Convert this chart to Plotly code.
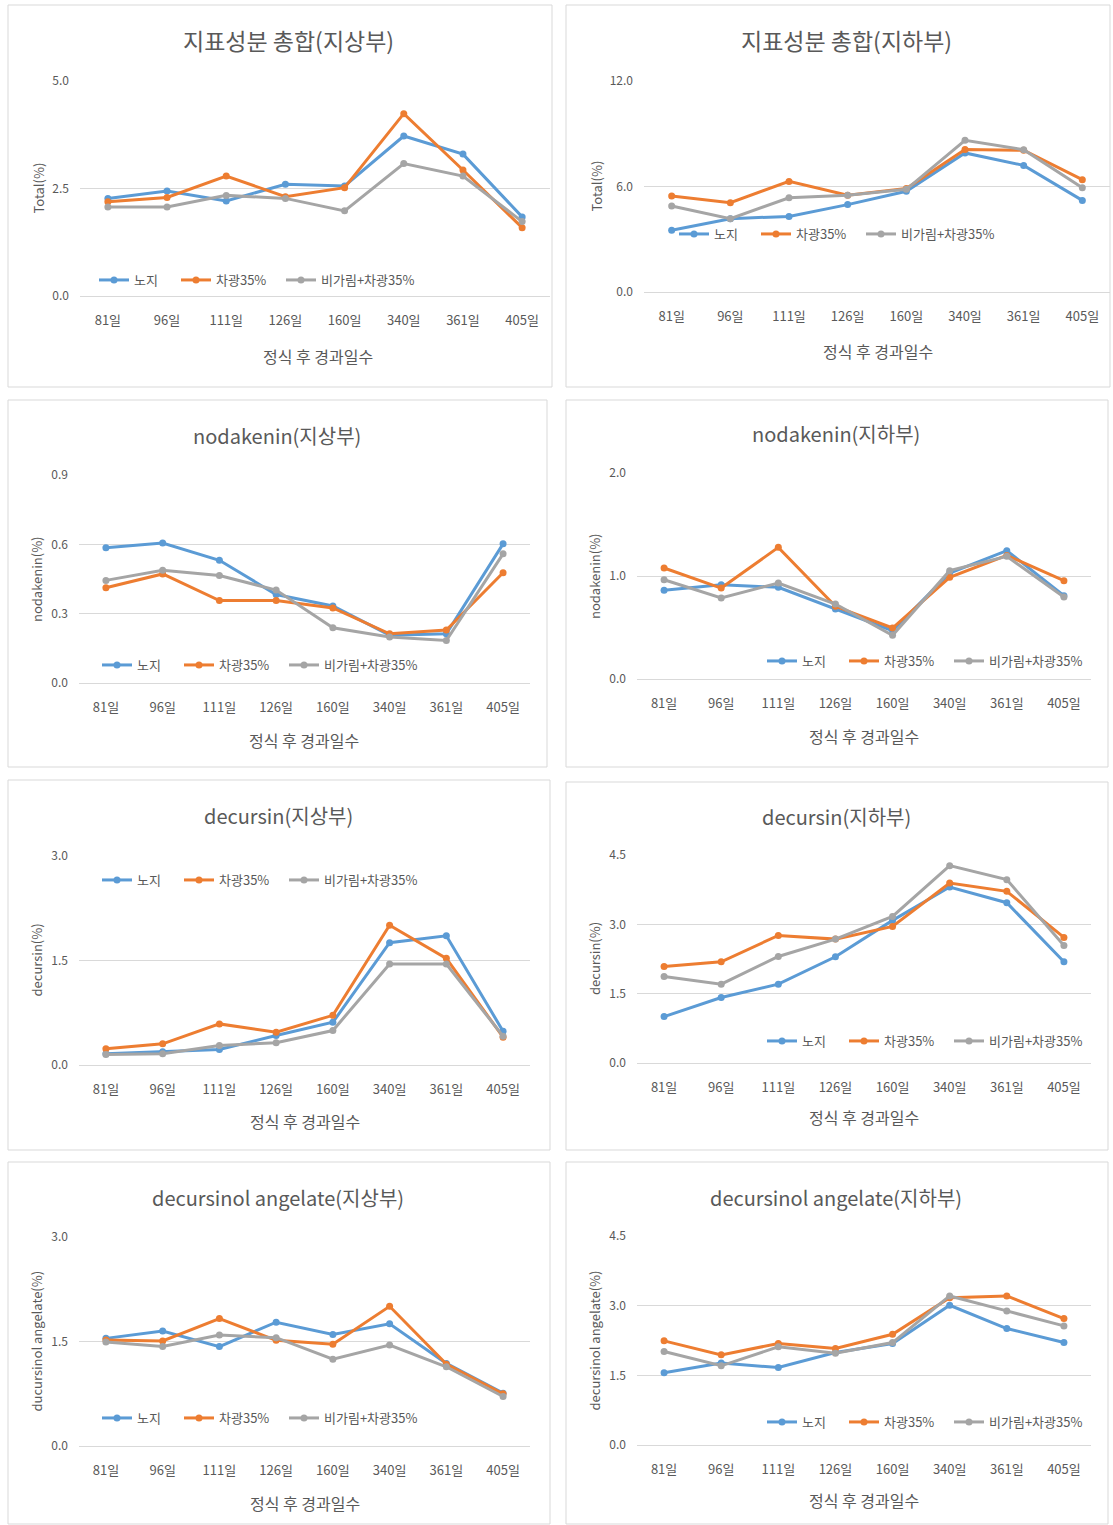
import plotly.graph_objects as go

W, H = 1113, 1525

categories = ["81일", "96일", "111일", "126일", "160일", "340일", "361일", "405일"]
series_names = ["노지", "차광35%", "비가림+차광35%"]
series_colors = ["#5B9BD5", "#ED7D31", "#A5A5A5"]

# 지표성분 총합(지상부)
total_above_noji = [2.27, 2.44, 2.21, 2.60, 2.56, 3.72, 3.30, 1.84]
total_above_shade = [2.19, 2.29, 2.79, 2.31, 2.52, 4.24, 2.93, 1.59]
total_above_rain = [2.07, 2.07, 2.34, 2.27, 1.98, 3.08, 2.79, 1.73]
# 지표성분 총합(지하부)
total_below_noji = [3.51, 4.17, 4.30, 4.97, 5.73, 7.91, 7.20, 5.21]
total_below_shade = [5.46, 5.08, 6.29, 5.50, 5.88, 8.11, 8.06, 6.39]
total_below_rain = [4.89, 4.17, 5.36, 5.50, 5.84, 8.63, 8.09, 5.93]
# nodakenin(지상부)
nodak_above_noji = [0.585, 0.606, 0.531, 0.383, 0.333, 0.207, 0.213, 0.602]
nodak_above_shade = [0.412, 0.472, 0.357, 0.357, 0.325, 0.213, 0.229, 0.477]
nodak_above_rain = [0.444, 0.488, 0.465, 0.402, 0.239, 0.199, 0.184, 0.559]
# nodakenin(지하부)
nodak_below_noji = [0.861, 0.916, 0.890, 0.680, 0.469, 1.029, 1.246, 0.809]
nodak_below_shade = [1.078, 0.883, 1.278, 0.706, 0.495, 0.987, 1.200, 0.955]
nodak_below_rain = [0.964, 0.786, 0.932, 0.728, 0.424, 1.052, 1.191, 0.796]
# decursin(지상부)
decur_above_noji = [0.162, 0.190, 0.223, 0.423, 0.613, 1.755, 1.854, 0.485]
decur_above_shade = [0.233, 0.304, 0.590, 0.471, 0.713, 2.007, 1.531, 0.399]
decur_above_rain = [0.152, 0.162, 0.281, 0.319, 0.495, 1.450, 1.450, 0.414]
# decursin(지하부)
decur_below_noji = [1.004, 1.416, 1.705, 2.298, 3.085, 3.808, 3.468, 2.189]
decur_below_shade = [2.088, 2.189, 2.760, 2.680, 2.955, 3.894, 3.714, 2.717]
decur_below_rain = [1.871, 1.705, 2.305, 2.680, 3.172, 4.270, 3.967, 2.543]
# decursinol angelate(지상부)
da_above_noji = [1.545, 1.649, 1.427, 1.777, 1.602, 1.754, 1.185, 0.758]
da_above_shade = [1.521, 1.507, 1.829, 1.517, 1.460, 2.005, 1.175, 0.749]
da_above_rain = [1.493, 1.427, 1.592, 1.555, 1.246, 1.450, 1.137, 0.711]
# decursinol angelate(지하부)
da_below_noji = [1.555, 1.763, 1.669, 1.991, 2.185, 3.009, 2.507, 2.206]
da_below_shade = [2.242, 1.941, 2.185, 2.077, 2.385, 3.173, 3.209, 2.722]
da_below_rain = [2.013, 1.705, 2.113, 1.977, 2.206, 3.209, 2.887, 2.564]

panel_titles = ["지표성분 총합(지상부)", "지표성분 총합(지하부)",
                "nodakenin(지상부)", "nodakenin(지하부)",
                "decursin(지상부)", "decursin(지하부)",
                "decursinol angelate(지상부)", "decursinol angelate(지하부)"]
y_titles = ["Total(%)", "Total(%)", "nodakenin(%)", "nodakenin(%)",
            "decursin(%)", "decursin(%)", "ducursinol angelate(%)", "decursinol angelate(%)"]
y_max = [5.0, 12.0, 0.9, 2.0, 3.0, 4.5, 3.0, 4.5]
y_dtick = [2.5, 6.0, 0.3, 1.0, 1.5, 1.5, 1.5, 1.5]
x_title = "정식 후 경과일수"

panel_series = [
    (total_above_noji, total_above_shade, total_above_rain),
    (total_below_noji, total_below_shade, total_below_rain),
    (nodak_above_noji, nodak_above_shade, nodak_above_rain),
    (nodak_below_noji, nodak_below_shade, nodak_below_rain),
    (decur_above_noji, decur_above_shade, decur_above_rain),
    (decur_below_noji, decur_below_shade, decur_below_rain),
    (da_above_noji, da_above_shade, da_above_rain),
    (da_below_noji, da_below_shade, da_below_rain),
]

# layout geometry in pixels: plot(l, r, top, bottom), frame(l, t, r, b),
# title(x, y, size), ytitle x, xtitle(x, y), legend(x, y)
geom = [
    dict(plot=(80, 550, 81, 296), frame=(8, 5, 552, 387), title=(289, 40, 23), ytx=38, xt=(318, 356), leg=(94, 280)),
    dict(plot=(644, 1110, 81, 292), frame=(566, 5, 1110, 387), title=(846, 40, 23), ytx=596, xt=(878, 351), leg=(674, 234)),
    dict(plot=(79, 530, 475, 683), frame=(8, 400, 547, 767), title=(277, 435, 20), ytx=36, xt=(304, 740), leg=(97, 665)),
    dict(plot=(637, 1091, 473, 679), frame=(566, 400, 1108, 767), title=(836, 434, 20), ytx=594, xt=(864, 736), leg=(762, 661)),
    dict(plot=(79, 530, 856, 1065), frame=(8, 780, 550, 1150), title=(278, 815, 20), ytx=36, xt=(305, 1121), leg=(97, 880)),
    dict(plot=(637, 1091, 855, 1063), frame=(566, 782, 1108, 1150), title=(836, 816, 20), ytx=594, xt=(864, 1117), leg=(762, 1041)),
    dict(plot=(79, 530, 1237, 1446), frame=(8, 1162, 550, 1524), title=(278, 1197, 20), ytx=36, xt=(305, 1503), leg=(97, 1418)),
    dict(plot=(637, 1091, 1236, 1445), frame=(566, 1162, 1108, 1524), title=(836, 1197, 20), ytx=594, xt=(864, 1500), leg=(762, 1422)),
]
legend_offsets = [0, 82, 187]

FONT = "Noto Sans CJK KR, Noto Sans, sans-serif"
TXT = "#595959"
GRID = "#D9D9D9"


def fx(px):
    return px / W


def fy(py):
    return 1 - py / H


fig = go.Figure()
layout = dict(
    width=W, height=H, margin=dict(l=0, r=0, t=0, b=0, autoexpand=False),
    paper_bgcolor="white", plot_bgcolor="rgba(0,0,0,0)",
    font=dict(family=FONT, color=TXT, size=12),
    showlegend=True, annotations=[], shapes=[],
)

for i in range(8):
    g = geom[i]
    n = i + 1
    xa = "x" if n == 1 else f"x{n}"
    ya = "y" if n == 1 else f"y{n}"
    l, r, t, b = g["plot"]
    lx, lyy = g["leg"]
    for s in range(3):
        k = i * 3 + s + 1
        lg = "legend" if k == 1 else f"legend{k}"
        fig.add_trace(go.Scatter(
            x=categories, y=panel_series[i][s], name=series_names[s],
            mode="lines+markers", xaxis=xa, yaxis=ya, legend=lg,
            line=dict(color=series_colors[s], width=3),
            marker=dict(color=series_colors[s], size=7, symbol="circle"),
            hoverinfo="skip",
        ))
        layout[lg] = dict(
            x=fx(lx + legend_offsets[s]), y=fy(lyy), xanchor="left", yanchor="middle",
            orientation="h", bgcolor="rgba(0,0,0,0)",
            font=dict(family=FONT, size=13, color=TXT),
            itemwidth=30, tracegroupgap=0,
        )
    layout["xaxis" if n == 1 else f"xaxis{n}"] = dict(
        domain=[fx(l), fx(r)], anchor=ya, type="category", automargin=False,
        showgrid=False, zeroline=False, showline=True, linecolor=GRID, linewidth=1,
        ticks="", ticklabelstandoff=12,
        tickfont=dict(family=FONT, size=13, color=TXT), fixedrange=True,
    )
    layout["yaxis" if n == 1 else f"yaxis{n}"] = dict(
        domain=[fy(b), fy(t)], anchor=xa, range=[0, y_max[i]], automargin=False,
        tick0=0, dtick=y_dtick[i], tickformat=".1f",
        showgrid=True, gridcolor=GRID, gridwidth=1, zeroline=False, showline=False,
        ticks="", ticklabelstandoff=10,
        tickfont=dict(family=FONT, size=12, color=TXT), fixedrange=True,
    )
    fl, ft, fr, fb = g["frame"]
    layout["shapes"].append(dict(
        type="rect", xref="paper", yref="paper",
        x0=fx(fl), x1=fx(fr), y0=fy(fb), y1=fy(ft),
        line=dict(color="#D9D9D9", width=1), fillcolor="rgba(0,0,0,0)", layer="below",
    ))
    tx, ty, tsz = g["title"]
    layout["annotations"].append(dict(
        text=panel_titles[i], x=fx(tx), y=fy(ty), xref="paper", yref="paper",
        xanchor="center", yanchor="middle", showarrow=False,
        font=dict(family=FONT, size=tsz, color=TXT),
    ))
    layout["annotations"].append(dict(
        text=y_titles[i], x=fx(g["ytx"]), y=fy((t + b) / 2), xref="paper", yref="paper",
        xanchor="center", yanchor="middle", showarrow=False, textangle=-90,
        font=dict(family=FONT, size=13, color=TXT),
    ))
    xtx, xty = g["xt"]
    layout["annotations"].append(dict(
        text=x_title, x=fx(xtx), y=fy(xty), xref="paper", yref="paper",
        xanchor="center", yanchor="middle", showarrow=False,
        font=dict(family=FONT, size=16, color=TXT),
    ))

fig.update_layout(**layout)
fig.write_html(
    "out.html",
    config={"displayModeBar": False},
    post_script="document.body.style.margin='0';document.body.style.overflow='hidden';",
)
